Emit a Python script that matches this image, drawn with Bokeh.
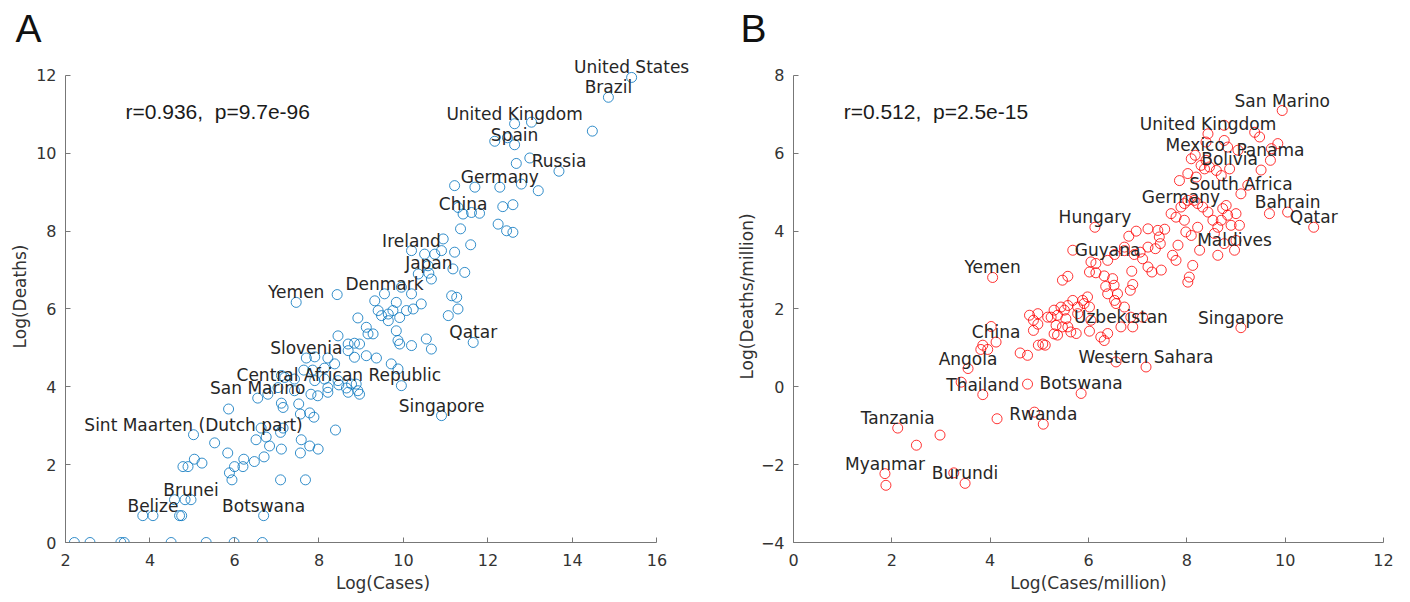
from bokeh.plotting import figure
from bokeh.layouts import row
from bokeh.models import Range1d, FixedTicker, Label, ColumnDataSource
from bokeh.embed import file_html
from bokeh.resources import INLINE
from bokeh.core.properties import value

# ---------------- Panel A: Log(Cases) vs Log(Deaths) ----------------
a_cases = [2.21, 2.58, 3.31, 3.39, 4.50, 5.33, 5.99, 6.66,
           3.83, 4.07, 4.70, 4.75, 6.69,
           4.58, 4.83, 4.97,
           7.09, 7.68,
           4.78, 4.90, 5.05, 5.23, 5.03, 5.53, 5.84, 5.88, 5.94, 6.00, 6.20, 6.22, 6.47, 6.70,
           6.51, 6.75, 6.83, 6.63, 7.11, 7.09, 7.15, 7.58, 7.56, 7.78, 7.98, 8.39,
           5.86, 7.15, 7.11, 7.52, 7.56, 7.78, 7.88, 6.55, 6.79,
           7.03, 7.42, 7.19,
           7.70, 7.90, 8.21, 8.37, 8.84, 9.12, 9.36, 7.64, 7.85, 8.13, 7.11, 7.42, 7.90, 8.13,
           8.21, 8.47, 8.65, 8.88, 8.92, 8.96, 9.71, 9.87, 9.95,
           8.45, 8.77, 7.81, 7.97, 8.21, 8.69,
           8.45, 8.69, 8.84, 8.96, 8.92, 9.12, 9.16, 9.28, 8.69,
           9.83, 9.87, 9.91, 10.19, 10.54, 10.66,
           9.55, 9.32, 9.83, 9.40, 9.48, 9.64, 9.75, 9.91, 10.07, 10.23, 10.42, 10.19, 9.95, 9.64,
           7.46, 8.43,
           10.19, 10.50, 10.74, 10.90, 11.21, 10.58, 11.17, 11.45, 10.35, 10.66, 10.60,
           11.14, 11.26, 11.06, 11.29, 10.94,
           11.35, 11.59, 11.29, 11.41, 11.61, 11.80, 12.24, 12.44, 12.59, 12.59, 12.35,
           11.21, 11.69, 12.28, 12.79, 13.19, 13.68, 12.67, 12.99, 12.16, 12.46, 12.63,
           12.63, 13.03, 14.47, 14.85, 15.40, 11.65, 10.90]
a_deaths = [0, 0, 0, 0, 0, 0, 0, 0,
            0.69, 0.69, 0.69, 0.69, 0.69,
            1.10, 1.10, 1.10,
            1.61, 1.61,
            1.95, 1.95, 2.14, 2.04, 2.77, 2.56, 2.30, 1.79, 1.61, 1.95, 1.95, 2.14, 2.08, 2.20,
            2.64, 2.71, 2.48, 2.94, 2.40, 2.83, 2.94, 2.64, 2.30, 2.48, 2.40, 2.89,
            3.43, 3.47, 3.58, 3.56, 3.30, 3.33, 3.22, 3.71, 3.81,
            3.98, 3.90, 4.24,
            4.74, 4.77, 4.74, 4.59, 4.76, 4.80, 4.74, 4.43, 4.43, 4.48, 4.29, 4.20, 4.16, 4.20,
            3.98, 4.05, 3.97, 4.07, 3.90, 3.81, 4.59, 4.46, 4.03,
            4.16, 4.07, 3.81, 3.77, 3.86, 3.86,
            5.31, 5.10, 5.12, 5.10, 5.77, 5.53, 5.36, 5.36, 4.93,
            5.44, 5.19, 5.10, 5.06, 5.23, 4.97,
            6.39, 6.21, 6.17, 5.96, 5.83, 5.70, 5.96, 5.78, 5.96, 6.00, 6.13, 6.39, 6.56, 5.87,
            6.17, 6.37,
            7.50, 7.41, 7.41, 7.50, 7.46, 7.11, 7.03, 6.94, 6.90, 6.77, 6.92,
            6.34, 6.30, 5.83, 6.00, 7.80,
            8.06, 7.65, 8.61, 8.44, 8.48, 8.46, 8.18, 8.01, 7.97, 8.68, 8.63,
            9.17, 9.13, 9.13, 9.21, 9.04, 9.54, 9.74, 9.88, 10.31, 10.40, 10.22,
            10.76, 10.80, 10.57, 11.44, 11.95, 5.14, 3.26]

a_label_names = ["United States", "Brazil", "United Kingdom", "Spain", "Russia", "Germany",
                 "China", "Ireland", "Japan", "Denmark", "Yemen", "Qatar", "Slovenia",
                 "Central African Republic", "San Marino", "Singapore",
                 "Sint Maarten (Dutch part)", "Brunei", "Belize", "Botswana"]
a_label_x = [15.40, 14.85, 12.63, 12.63, 13.68, 12.28, 11.41, 10.19, 10.60, 9.55, 7.46, 11.65,
             7.70, 8.47, 6.55, 10.90, 5.03, 4.97, 4.07, 6.69]
a_label_y = [11.95, 11.44, 10.76, 10.22, 9.54, 9.13, 8.44, 7.50, 6.92, 6.39, 6.17, 5.14,
             4.74, 4.05, 3.71, 3.26, 2.77, 1.10, 0.69, 0.69]

# ---------------- Panel B: per-million ----------------
b_cases = [1.86, 1.88, 2.12, 2.50, 2.98, 3.26, 3.49, 4.14, 4.90, 5.08, 3.41, 3.85, 4.76, 5.85,
           3.55, 4.12, 3.85, 3.95, 3.81, 4.02, 4.61, 4.76, 4.98, 5.12, 6.56, 7.17, 9.10,
           4.80, 4.88, 4.97, 4.88, 5.17, 5.37, 5.34, 5.37, 5.58, 5.54, 5.64, 5.75, 5.44, 5.58,
           5.78, 5.91, 6.02, 5.07, 5.30, 5.47, 6.25, 6.39, 6.32, 6.66, 6.90, 7.10, 6.86, 6.02,
           6.05, 6.56, 6.73, 5.88, 5.68, 5.30, 5.24, 5.78, 5.51, 4.97, 5.98,
           4.05, 6.13, 5.68, 5.47, 5.58, 6.02, 6.15, 6.05, 6.15, 6.32, 6.49, 6.35, 6.52, 6.39,
           6.59, 6.53, 6.88, 6.90, 6.85, 6.39, 6.53, 6.73, 6.93, 7.05, 7.10, 7.21, 7.21, 7.29,
           7.48, 6.73, 6.82, 6.97, 7.21, 7.41, 7.55, 7.44, 7.46, 7.36, 7.71, 7.78, 7.82, 8.12,
           8.05, 8.02,
           7.68, 7.78, 7.95, 7.88, 7.95, 8.02, 8.15, 8.22, 8.32, 8.43, 8.53, 8.63, 8.56, 8.22,
           8.09, 7.98, 8.26, 8.83, 8.80, 9.00, 9.07, 8.90, 8.70, 8.73, 7.85, 8.02, 8.19, 8.36,
           8.46, 8.60, 8.70, 8.87, 8.09, 8.17, 8.29, 8.39, 8.43, 8.39, 8.76, 8.83, 9.04, 8.76,
           9.38, 9.48, 9.85, 9.72, 9.70, 9.51, 9.10, 9.68, 10.05, 10.58, 8.97, 8.63, 9.94,
           9.24, 9.00, 8.76]
b_deaths = [-2.23, -2.53, -1.06, -1.50, -1.24, -2.21, -2.48, -0.82, -0.65, -0.96, 0.12, -0.20,
            0.07, -0.17, 0.47, 1.15, 1.07, 0.96, 0.96, 1.55, 0.87, 0.81, 1.07, 1.07, 0.64, 0.51,
            1.52,
            1.84, 1.71, 1.61, 1.45, 1.79, 1.84, 1.58, 1.33, 1.54, 1.75, 1.41, 1.37, 2.05, 2.09,
            2.05, 2.14, 1.43, 1.10, 1.36, 1.54, 1.28, 1.37, 1.19, 1.54, 1.54, 1.79, 1.79, 2.05,
            1.71, 2.14, 2.05, 2.22, 2.22, 1.97, 1.79, 1.88, 1.97, 1.88, 2.31,
            2.81, 4.10, 3.51, 2.74, 2.84, 2.95, 2.93, 3.21, 3.17, 2.85, 2.78, 2.58, 2.61, 2.39,
            2.39, 2.22, 2.97, 2.63, 2.48, 3.25, 3.40, 3.50, 3.40, 3.46, 3.29, 3.59, 3.08, 2.95,
            3.00, 3.59, 3.87, 4.00, 4.06, 4.02, 4.05, 3.85, 3.68, 3.55, 3.38, 3.25, 3.64, 3.12,
            2.82, 2.69,
            4.45, 4.36, 4.28, 4.62, 4.71, 4.79, 4.79, 4.71, 4.62, 4.49, 4.28, 4.10, 3.94, 4.10,
            3.89, 3.98, 3.51, 4.41, 4.66, 4.45, 4.15, 4.15, 4.28, 4.58, 5.30, 5.48, 5.39, 5.60,
            5.65, 5.56, 5.43, 5.60, 5.86, 5.95, 5.69, 5.82, 6.50, 6.29, 6.33, 6.16, 6.08, 6.72,
            6.54, 6.42, 6.25, 6.12, 5.82, 5.57, 4.96, 4.45, 4.49, 4.10, 3.51, 3.38, 7.10,
            5.18, 3.76, 3.68]

b_label_names = ["San Marino", "United Kingdom", "Mexico", "Panama", "Bolivia", "South Africa",
                 "Germany", "Bahrain", "Qatar", "Hungary", "Maldives", "Guyana", "Yemen",
                 "Uzbekistan", "Singapore", "China", "Western Sahara", "Angola", "Thailand",
                 "Botswana", "Rwanda", "Tanzania", "Myanmar", "Burundi"]
b_label_x = [9.94, 8.43, 8.17, 9.70, 8.87, 9.10, 7.88, 10.05, 10.58, 6.13, 8.97, 6.39, 4.05,
             6.66, 9.10, 4.12, 7.17, 3.55, 3.85, 5.85, 5.08, 2.12, 1.86, 3.49]
b_label_y = [7.10, 6.50, 5.95, 5.82, 5.60, 4.96, 4.62, 4.49, 4.10, 4.10, 3.51, 3.25, 2.81,
             1.54, 1.52, 1.15, 0.51, 0.47, -0.20, -0.17, -0.96, -1.06, -2.23, -2.48]

a_stats = "r=0.936,\u00a0 p=9.7e-96"
b_stats = "r=0.512,\u00a0 p=2.5e-15"

AXIS_COL = "#777777"
TXT_COL = "#262626"
HEIGHT = 597
TOP = 50


def make_fig(width, left, right, xr, yr, xb, yb, xticks, yticks, xlabel, ylabel, panel,
             title_offset, ylabel_standoff):
    p = figure(width=width, height=HEIGHT, x_range=Range1d(*xr), y_range=Range1d(*yr),
               output_backend="svg", toolbar_location=None,
               min_border_left=left, min_border_right=right,
               min_border_top=TOP, min_border_bottom=HEIGHT - 542)
    p.outline_line_color = None
    p.xgrid.visible = False
    p.ygrid.visible = False
    p.background_fill_color = "white"
    p.border_fill_color = "white"
    p.xaxis.ticker = FixedTicker(ticks=xticks)
    p.yaxis.ticker = FixedTicker(ticks=yticks)
    p.xaxis.bounds = xb
    p.yaxis.bounds = yb
    p.xaxis.axis_label = xlabel
    p.yaxis.axis_label = ylabel
    for ax in (p.xaxis[0], p.yaxis[0]):
        ax.major_tick_in = 5
        ax.major_tick_out = 0
        ax.minor_tick_line_color = None
        ax.axis_line_color = AXIS_COL
        ax.major_tick_line_color = AXIS_COL
        ax.major_label_text_font = "DejaVu Sans"
        ax.major_label_text_font_size = "16px"
        ax.major_label_text_color = "#333333"
        ax.axis_label_text_font = "DejaVu Sans"
        ax.axis_label_text_font_size = "17px"
        ax.axis_label_text_font_style = "normal"
        ax.axis_label_text_color = "#333333"
    p.xaxis.major_label_standoff = 11
    p.xaxis.axis_label_standoff = 4
    p.yaxis.major_label_standoff = 9
    p.yaxis.axis_label_standoff = ylabel_standoff
    p.title.text = panel
    p.title.text_font = "Liberation Sans"
    p.title.text_font_size = "39px"
    p.title.text_font_style = "normal"
    p.title.text_color = "#111111"
    p.title.align = "left"
    p.title.offset = title_offset
    p.title.standoff = 1
    return p


# Frames: data extended up (and right for A) so labels are not clipped; axis bounds keep lines
pA = make_fig(700, 65, 0, (2, 17.03), (0, 12.642), (2, 16), (0, 12),
              [2, 4, 6, 8, 10, 12, 14, 16], [0, 2, 4, 6, 8, 10, 12],
              "Log(Cases)", "Log(Deaths)", "A", -50, 3)
pA.scatter(a_cases, a_deaths, marker="circle", size=10, fill_color=None,
           line_color="#0072BD", line_alpha=0.8, line_width=1)
srcA = ColumnDataSource(dict(x=a_label_x, y=a_label_y, t=a_label_names))
pA.text(x="x", y="y", text="t", source=srcA, text_align="center", text_baseline="bottom",
        text_font=value("DejaVu Sans"), text_font_size="17px", text_color=TXT_COL)
pA.add_layout(Label(x=3.42, y=11.07, text=a_stats, text_font="Liberation Sans",
                    text_font_size="21px", text_color="#1a1a1a", text_baseline="alphabetic"))

pB = make_fig(705, 93, 22, (0, 12), (-4, 8.642), (0, 12), (-4, 8),
              [0, 2, 4, 6, 8, 10, 12], [-4, -2, 0, 2, 4, 6, 8],
              "Log(Cases/million)", "Log(Deaths/million)", "B", -53, 1)
pB.scatter(b_cases, b_deaths, marker="circle", size=10, fill_color=None,
           line_color="#FF0000", line_alpha=0.8, line_width=1)
srcB = ColumnDataSource(dict(x=b_label_x, y=b_label_y, t=b_label_names))
pB.text(x="x", y="y", text="t", source=srcB, text_align="center", text_baseline="bottom",
        text_font=value("DejaVu Sans"), text_font_size="17px", text_color=TXT_COL)
pB.add_layout(Label(x=1.02, y=7.07, text=b_stats, text_font="Liberation Sans",
                    text_font_size="21px", text_color="#1a1a1a", text_baseline="alphabetic"))

layout = row(pA, pB)
open("out.html", "w").write(file_html(layout, INLINE))
